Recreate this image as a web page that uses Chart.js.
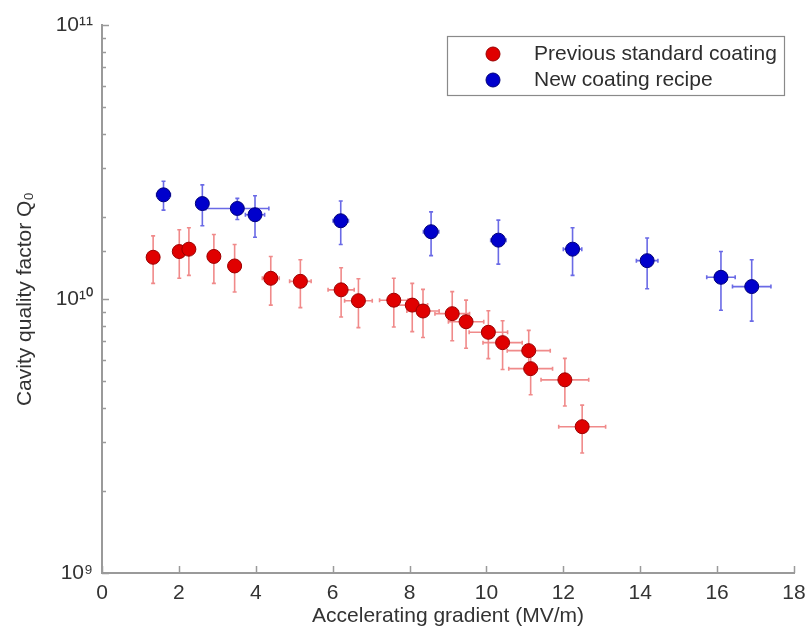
<!DOCTYPE html>
<html>
<head>
<meta charset="utf-8">
<script src="https://cdn.jsdelivr.net/npm/chart.js@4/dist/chart.umd.min.js"></script>
<style>
  html, body { margin: 0; padding: 0; background: #ffffff; }
  #wrap { width: 810px; height: 632px; }
</style>
</head>
<body>
<div id="wrap"><canvas id="c" width="810" height="632"></canvas></div>
<script>
// ---- data ----
const prevLabel = 'Previous standard coating';
const prevX    = [1.33, 2.01, 2.26, 2.91, 3.45, 4.39, 5.16, 6.22, 6.67, 7.59, 8.07, 8.35, 9.11, 9.47, 10.05, 10.42, 11.10, 11.15, 12.04, 12.49];
const prevQ    = [1.42e10, 1.49e10, 1.52e10, 1.43e10, 1.32e10, 1.19e10, 1.16e10, 1.08e10, 9.86e9, 9.9e9, 9.5e9, 9.04e9, 8.84e9, 8.26e9, 7.56e9, 6.93e9, 6.48e9, 5.57e9, 5.07e9, 3.42e9];
const prevXErr = [0.07, 0.10, 0.11, 0.15, 0.17, 0.22, 0.28, 0.34, 0.36, 0.37, 0.40, 0.42, 0.45, 0.46, 0.50, 0.51, 0.56, 0.57, 0.62, 0.61];
const prevQErr = [2.8e9, 3.0e9, 3.0e9, 2.9e9, 2.6e9, 2.4e9, 2.3e9, 2.2e9, 2.0e9, 2.0e9, 1.9e9, 1.8e9, 1.8e9, 1.65e9, 1.5e9, 1.4e9, 1.2e9, 1.1e9, 1.0e9, 0.68e9];

const newLabel = 'New coating recipe';
const newX    = [1.60, 2.61, 3.52, 3.98, 6.21, 8.56, 10.31, 12.24, 14.18, 16.10, 16.90];
const newQ    = [2.40e10, 2.23e10, 2.14e10, 2.03e10, 1.93e10, 1.76e10, 1.64e10, 1.52e10, 1.38e10, 1.20e10, 1.11e10];
const newXErr = [0.18, 0.10, 0.82, 0.25, 0.20, 0.20, 0.20, 0.24, 0.28, 0.37, 0.50];
const newQErr = [2.9e9, 3.8e9, 1.9e9, 3.5e9, 3.5e9, 3.2e9, 3.0e9, 3.0e9, 2.9e9, 2.9e9, 2.8e9];

const xTickValues = [0, 2, 4, 6, 8, 10, 12, 14, 16, 18];
const yDecadeLabels = { 9: '10\u2079', 10: '10\u00B9\u2070', 11: '10\u00B9\u00B9' };

const FONT = "'Liberation Sans', Arial, sans-serif";

function pts(xs, ys, xe, ye) {
  return xs.map((x, i) => ({ x: x, y: ys[i], xErr: xe[i], yErr: ye[i] }));
}

const errorBarPlugin = {
  id: 'errorBars',
  beforeDatasetsDraw(chart) {
    const ctx = chart.ctx;
    const xs = chart.scales.x, ys = chart.scales.y;
    chart.data.datasets.forEach((ds) => {
      ctx.save();
      ctx.strokeStyle = ds.errorColor;
      ctx.lineWidth = 1.6;
      const cap = 2;
      ds.data.forEach((p) => {
        const px = xs.getPixelForValue(p.x);
        const py = ys.getPixelForValue(p.y);
        const yTop = ys.getPixelForValue(p.y + p.yErr);
        const yBot = ys.getPixelForValue(p.y - p.yErr);
        const xL = xs.getPixelForValue(p.x - p.xErr);
        const xR = xs.getPixelForValue(p.x + p.xErr);
        ctx.beginPath();
        ctx.moveTo(px, yTop); ctx.lineTo(px, yBot);
        ctx.moveTo(px - cap, yTop); ctx.lineTo(px + cap, yTop);
        ctx.moveTo(px - cap, yBot); ctx.lineTo(px + cap, yBot);
        ctx.moveTo(xL, py); ctx.lineTo(xR, py);
        ctx.moveTo(xL, py - cap); ctx.lineTo(xL, py + cap);
        ctx.moveTo(xR, py - cap); ctx.lineTo(xR, py + cap);
        ctx.stroke();
      });
      ctx.restore();
    });
  }
};

const innerTicksPlugin = {
  id: 'innerTicks',
  afterDraw(chart) {
    const ctx = chart.ctx;
    const xs = chart.scales.x, ys = chart.scales.y;
    const area = chart.chartArea;
    ctx.save();
    ctx.strokeStyle = '#9a9a9a';
    ctx.lineWidth = 1.5;
    ctx.beginPath();
    ys.ticks.forEach((t) => {
      const py = Math.round(ys.getPixelForValue(t.value)) + 0.5;
      const len = t.major ? 7 : 4;
      ctx.moveTo(area.left, py); ctx.lineTo(area.left + len, py);
    });
    xs.ticks.forEach((t) => {
      const px = Math.round(xs.getPixelForValue(t.value)) + 0.5;
      ctx.moveTo(px, area.bottom); ctx.lineTo(px, area.bottom - 7);
    });
    ctx.stroke();
    ctx.restore();
  }
};

const legendPlugin = {
  id: 'boxLegend',
  afterDraw(chart) {
    const ctx = chart.ctx;
    ctx.save();
    ctx.fillStyle = '#ffffff';
    ctx.fillRect(447, 36, 337, 59);
    ctx.strokeStyle = '#8a8a8a';
    ctx.lineWidth = 1.2;
    ctx.strokeRect(447.5, 36.5, 337, 59);
    ctx.font = '21px ' + FONT;
    ctx.textBaseline = 'middle';
    ctx.textAlign = 'left';
    chart.data.datasets.forEach((ds, i) => {
      const cy = 54 + i * 26;
      ctx.beginPath();
      ctx.arc(493, cy, 7, 0, Math.PI * 2);
      ctx.fillStyle = ds.backgroundColor;
      ctx.fill();
      ctx.lineWidth = 1;
      ctx.strokeStyle = ds.borderColor;
      ctx.stroke();
      ctx.fillStyle = '#2e2e2e';
      ctx.fillText(ds.label, 534, cy);
    });
    ctx.restore();
  }
};

new Chart(document.getElementById('c'), {
  type: 'scatter',
  data: {
    datasets: [
      {
        label: prevLabel,
        data: pts(prevX, prevQ, prevXErr, prevQErr),
        backgroundColor: '#e00000',
        borderColor: '#9a0000',
        errorColor: '#f08a8a',
        pointRadius: 7,
        pointBorderWidth: 1,
        pointHoverRadius: 7
      },
      {
        label: newLabel,
        data: pts(newX, newQ, newXErr, newQErr),
        backgroundColor: '#0000cc',
        borderColor: '#00007a',
        errorColor: '#6a6ae6',
        pointRadius: 7,
        pointBorderWidth: 1,
        pointHoverRadius: 7
      }
    ]
  },
  options: {
    responsive: false,
    animation: false,
    layout: { padding: { top: 25, right: 16, left: 0, bottom: 0 } },
    plugins: {
      legend: { display: false },
      tooltip: { enabled: false }
    },
    scales: {
      x: {
        type: 'linear',
        min: 0,
        max: 18,
        afterBuildTicks: (s) => { s.ticks = xTickValues.map(v => ({ value: v })); },
        afterFit: (s) => { s.height = 59; s.paddingLeft = 0; s.paddingRight = 0; },
        grid: { display: false, drawTicks: false },
        border: { display: true, color: '#9a9a9a', width: 2 },
        ticks: {
          padding: 8,
          color: '#333333',
          font: { family: FONT, size: 21 },
          maxRotation: 0,
          autoSkip: false
        },
        title: {
          display: true,
          text: 'Accelerating gradient (MV/m)',
          color: '#333333',
          font: { family: FONT, size: 21 },
          padding: { top: 0, bottom: 3 }
        }
      },
      y: {
        type: 'logarithmic',
        min: 1e9,
        max: 1e11,
        afterFit: (s) => { s.width = 102; s.paddingTop = 0; s.paddingBottom = 0; },
        grid: { display: false, drawTicks: false },
        border: { display: true, color: '#9a9a9a', width: 2 },
        ticks: {
          padding: 9,
          color: '#333333',
          font: { family: FONT, size: 21 },
          autoSkip: false,
          callback: (v) => {
            const e = Math.log10(v);
            const r = Math.round(e);
            return Math.abs(e - r) < 1e-9 && yDecadeLabels[r] ? yDecadeLabels[r] : '';
          }
        },
        title: {
          display: true,
          text: 'Cavity quality factor Q\u2080',
          color: '#333333',
          font: { family: FONT, size: 21 },
          padding: { top: 13, bottom: 0 }
        }
      }
    }
  },
  plugins: [errorBarPlugin, innerTicksPlugin, legendPlugin]
});
</script>
</body>
</html>
